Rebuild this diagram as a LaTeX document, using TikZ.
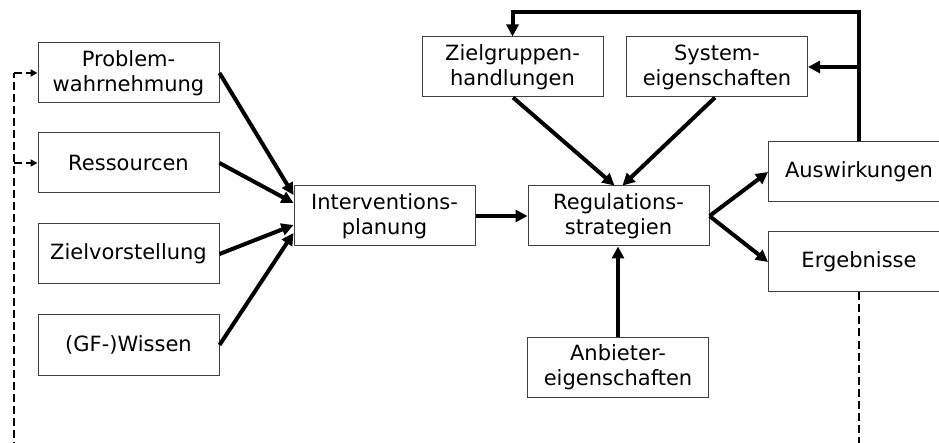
\documentclass[tikz,border=0pt]{standalone}
\usepackage{fontspec}
\setmainfont{DejaVu Sans}
\usetikzlibrary{arrows.meta,calc}
\begin{document}
\begin{tikzpicture}[x=1pt,y=-1pt,
  box/.style={draw=black!75,line width=1pt,minimum width=181pt,minimum height=60pt,
    inner sep=0pt,align=center,font=\fontsize{21}{25}\selectfont},
  flow/.style={line width=4pt,-{Triangle[length=12pt,width=12pt]}},
  feed/.style={line width=4pt},
  fback/.style={line width=2pt,dash pattern=on 8pt off 4pt},
  fbarrow/.style={line width=2pt,dash pattern=on 8pt off 4pt,-{Triangle[length=7pt,width=7pt]}}]
\useasboundingbox (0,0) rectangle (939,443);
\clip (0,0) rectangle (939,443);

% input factors
\node[box] (prob) at (128.5,73)  {Problem-\\wahrnehmung};
\node[box] (res)  at (128.5,163) {Ressourcen};
\node[box] (ziel) at (128.5,254) {Zielvorstellung};
\node[box] (wiss) at (128.5,345) {(GF-)Wissen};

% planning and strategies
\node[box] (interv) at (384.5,216) {Interventions-\\planung};
\node[box] (reg)    at (618.5,216) {Regulations-\\strategien};
\node[box] (zgh)    at (512.5,67)  {Zielgruppen-\\handlungen};
\node[box] (syst)   at (717,67)    {System-\\eigenschaften};
\node[box] (anb)    at (618,367)   {Anbieter-\\eigenschaften};

% outcomes
\node[box] (ausw) at (859,172) {Auswirkungen};
\node[box] (erg)  at (859,262) {Ergebnisse};

% inputs into planning
\draw[flow] (prob.east) -- ($(interv.west)+(0,-21)$);
\draw[flow] (res.east)  -- ($(interv.west)+(0,-13)$);
\draw[flow] (ziel.east) -- ($(interv.west)+(0,9)$);
\draw[flow] (wiss.east) -- ($(interv.west)+(0,17)$);

% planning into strategies
\draw[flow] (interv.east) -- (reg.west);
\draw[flow] (zgh.south -| 513,0) -- ($(reg.north)+(-4,0)$);
\draw[flow] (syst.south -| 715,0) -- ($(reg.north)+(4,0)$);
\draw[flow] (anb.north) -- (anb.north |- reg.south);

% strategies into outcomes
\draw[flow] (reg.east) -- (ausw.west);
\draw[flow] (reg.east) -- (erg.west);

% feedback from the effects
\coordinate (fbtop) at (859,12);
\coordinate (fbmid) at (859,67);
\draw[flow] (ausw.north) -- (fbtop) -| (zgh.north);
\draw[flow] (fbmid) -- (syst.east);

% dashed return from the results
\coordinate (rbot) at (859,450);
\coordinate (lbot) at (14,450);
\coordinate (lp)   at (14,73);
\coordinate (lr)   at (14,163);
\draw[fback] (erg.south) -- (rbot);
\draw[fback] (lbot) -- (lp);
\draw[fbarrow] (lp) -- (prob.west);
\draw[fbarrow] (lr) -- (res.west);
\end{tikzpicture}
\end{document}
